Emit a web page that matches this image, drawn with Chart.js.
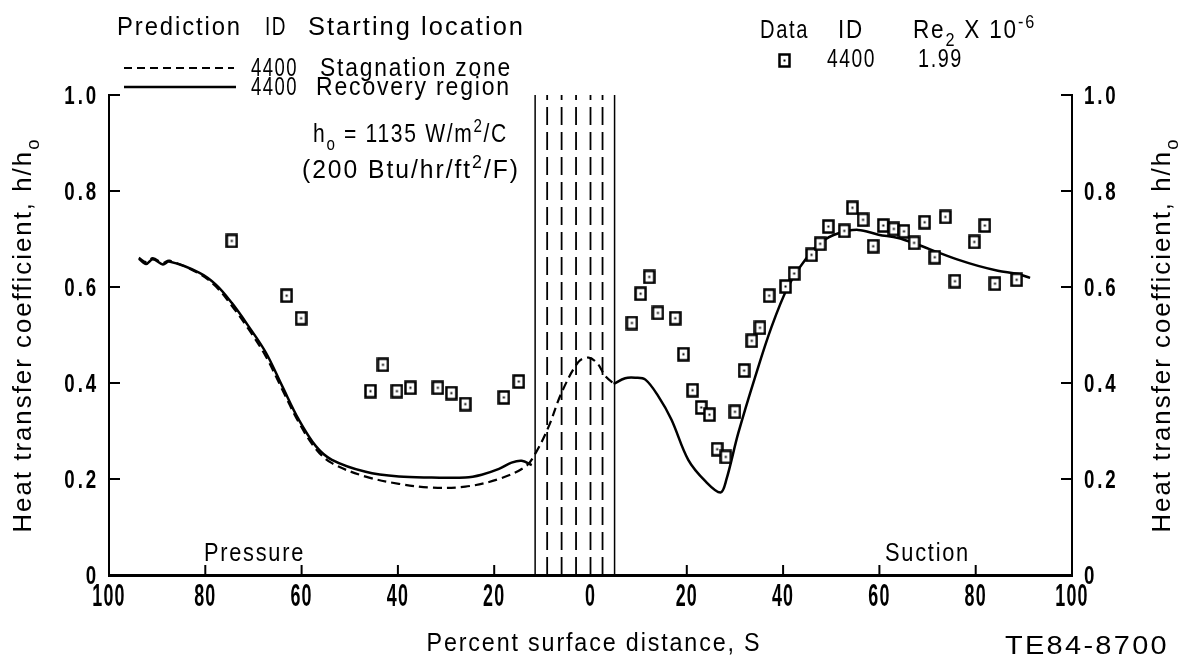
<!DOCTYPE html>
<html>
<head>
<meta charset="utf-8">
<title>Heat transfer coefficient vs percent surface distance</title>
<script src="https://cdn.jsdelivr.net/npm/chart.js@4.4.1/dist/chart.umd.min.js"></script>
<style>
  html, body { margin: 0; padding: 0; background: #fff; }
  #wrap { position: relative; width: 1181px; height: 661px; }
</style>
</head>
<body>
<div id="wrap"><canvas id="chart"></canvas></div>
<script>
// -------- data (S: percent surface distance, pressure side negative) --------

// Prediction 4400, starting in recovery region (solid)
const recPressS = [-93.8, -92.3, -90.9, -88.8, -87.5, -81.3, -77.8, -74.5, -71, -67.4, -64, -60.6, -57, -53.7, -46.7, -39.8, -33, -26, -22.6, -19, -16.4, -14.3, -12.2];
const recPressH = [0.659, 0.648, 0.658, 0.647, 0.653, 0.630, 0.605, 0.567, 0.518, 0.463, 0.393, 0.324, 0.268, 0.240, 0.215, 0.205, 0.203, 0.203, 0.209, 0.221, 0.234, 0.238, 0.229];
const recSuctS = [4.8, 7.2, 9.3, 11.4, 14.1, 16.8, 20.3, 23.9, 27, 28.2, 30.7, 34.2, 37.6, 41, 44.6, 48, 51.5, 55.6, 59.8, 63.9, 68, 72.2, 76.3, 80.5, 84.6, 88.8, 91.3];
const recSuctH = [0.398, 0.410, 0.411, 0.407, 0.372, 0.324, 0.240, 0.195, 0.172, 0.198, 0.296, 0.413, 0.517, 0.600, 0.657, 0.694, 0.712, 0.719, 0.709, 0.702, 0.688, 0.672, 0.657, 0.644, 0.634, 0.627, 0.619];

// Prediction 4400, starting in stagnation zone (dashed)
const stagS = [-93.8, -92.3, -90.9, -88.8, -87.5, -81.3, -77.8, -74.5, -71, -67.4, -64, -60.6, -57, -53.7, -46.7, -39.8, -33, -26, -19, -13.5, -11.4, -8.7, -6, -2.5, -0.4, 1.5, 3.1, 5.2];
const stagH = [0.661, 0.652, 0.660, 0.650, 0.655, 0.628, 0.601, 0.561, 0.512, 0.455, 0.386, 0.318, 0.262, 0.233, 0.205, 0.190, 0.182, 0.184, 0.200, 0.226, 0.254, 0.309, 0.380, 0.444, 0.453, 0.440, 0.414, 0.396];

// Data 4400, Re2 = 1.99e6
const dataS = [-74.5, -63.1, -60.1, -45.7, -43.1, -40.2, -37.4, -31.7, -28.9, -26, -18, -14.9,
  8.6, 10.4, 12.2, 14, 17.6, 19.3, 21.2, 23, 24.7, 26.3, 28.1, 30, 31.9, 33.5, 35.2, 37.1, 40.5, 42.3,
  45.9, 47.7, 49.4, 52.7, 54.4, 56.6, 58.7, 60.8, 63, 65.1, 67.2, 69.4, 71.5, 73.7, 75.7, 79.7, 81.9, 84, 88.5];
const dataH = [0.696, 0.582, 0.535, 0.383, 0.438, 0.383, 0.390, 0.390, 0.379, 0.356, 0.370, 0.403,
  0.525, 0.586, 0.621, 0.546, 0.535, 0.460, 0.385, 0.349, 0.334, 0.262, 0.246, 0.340, 0.426, 0.488, 0.515, 0.582, 0.601, 0.628,
  0.667, 0.690, 0.726, 0.717, 0.765, 0.740, 0.685, 0.728, 0.721, 0.716, 0.692, 0.735, 0.662, 0.746, 0.612, 0.694, 0.728, 0.607, 0.615];

// Stagnation zone boundaries (vertical lines)
const zoneSolidS = [-11.5, 5];
const zoneDashedS = [-9, -6, -3, 0, 2.5];

const xMin = -100, xMax = 100, xStep = 20;
const yMin = 0, yMax = 1, yStep = 0.2;

// -------- helpers --------
const zip = (xs, ys) => xs.map((x, i) => ({ x, y: ys[i] }));
const FAMILY = "'Liberation Sans', 'DejaVu Sans', sans-serif";

// square-with-dot marker used for the data
function makeMarker() {
  const c = document.createElement('canvas');
  c.width = 13; c.height = 15;
  const g = c.getContext('2d');
  g.fillStyle = '#fff'; g.fillRect(1, 1, 11, 13);
  g.strokeStyle = '#000'; g.lineWidth = 2.5;
  g.strokeRect(1.5, 1.5, 10, 12);
  g.fillStyle = '#000'; g.fillRect(5.5, 6.5, 2, 2);
  return c;
}
const marker = makeMarker();

// narrow plotter-style text with sub/superscripts
// segs: string or array of [text, 'sub'|'sup'|null]
// o: { size, align, rot, w (fit to width), sx (fixed squeeze), ls (letter spacing), bold }
function rich(ctx, segs, x, y, o = {}) {
  const size = o.size || 25, align = o.align || 'left';
  if (typeof segs === 'string') segs = [[segs, null]];
  ctx.save();
  ctx.translate(x, y);
  if (o.rot) ctx.rotate(o.rot);
  ctx.fillStyle = '#000';
  ctx.textBaseline = 'alphabetic';
  ctx.letterSpacing = (o.ls ?? 2) + 'px';
  const weight = o.bold ? 'bold ' : '';
  const fontFor = s => `${weight}${s ? Math.round(size * 0.72) : size}px ${FAMILY}`;
  let total = 0;
  segs.forEach(([t, s]) => { ctx.font = fontFor(s); total += ctx.measureText(t).width; });
  const sx = o.w ? o.w / total : (o.sx || 0.8);
  ctx.scale(sx, 1);
  let cx = align === 'center' ? -total / 2 : align === 'right' ? -total : 0;
  segs.forEach(([t, s]) => {
    ctx.font = fontFor(s);
    const dy = s === 'sub' ? size * 0.3 : s === 'sup' ? -size * 0.42 : 0;
    ctx.fillText(t, cx, dy);
    cx += ctx.measureText(t).width;
  });
  ctx.restore();
}

function seg(ctx, x1, y1, x2, y2) {
  ctx.beginPath(); ctx.moveTo(x1, y1); ctx.lineTo(x2, y2); ctx.stroke();
}

const yTickLabel = v => (v === 0 ? '0' : v.toFixed(1));
const xTickLabel = v => String(Math.abs(v));

// inward ticks, tick labels, legend block and notes
const annotate = {
  id: 'annotate',
  afterDraw(chart) {
    const ctx = chart.ctx;
    const xs = chart.scales.x, ys = chart.scales.y;
    ctx.save();
    ctx.strokeStyle = '#000';
    ctx.lineWidth = 2;
    ys.ticks.forEach(t => {
      const py = ys.getPixelForValue(t.value);
      if (t.value !== 0) {
        seg(ctx, xs.left, py, xs.left + 11, py);
        seg(ctx, xs.right, py, xs.right - 11, py);
      }
      rich(ctx, yTickLabel(t.value), xs.left - 10, py + 9, { size: 26, align: 'right', sx: 0.72, ls: 4, bold: true });
      rich(ctx, yTickLabel(t.value), xs.right + 12, py + 9, { size: 26, align: 'left', sx: 0.72, ls: 4, bold: true });
    });
    xs.ticks.forEach(t => {
      const px = xs.getPixelForValue(t.value);
      if (t.value !== 0 && Math.abs(t.value) !== 100) seg(ctx, px, ys.bottom, px, ys.bottom - 10);
      rich(ctx, xTickLabel(t.value), px, ys.bottom + 31, { size: 32, align: 'center', sx: 0.56, ls: 2, bold: true });
    });

    // prediction legend
    rich(ctx, 'Prediction', 117, 35, { w: 125 });
    rich(ctx, 'ID', 265, 35, { w: 22 });
    rich(ctx, 'Starting location', 308, 35, { w: 217 });
    ctx.lineWidth = 2;
    ctx.setLineDash([8, 5]);
    seg(ctx, 124, 68, 234, 68);
    ctx.setLineDash([]);
    ctx.lineWidth = 2.4;
    seg(ctx, 124, 87, 236, 87);
    rich(ctx, '4400', 251, 76, { w: 47 });
    rich(ctx, 'Stagnation zone', 320, 76, { w: 192 });
    rich(ctx, '4400', 251, 95, { w: 47 });
    rich(ctx, 'Recovery region', 316, 95, { w: 195 });

    // data legend
    rich(ctx, 'Data', 760, 38, { w: 49 });
    rich(ctx, 'ID', 838, 38, { w: 26 });
    rich(ctx, [['Re', null], ['2', 'sub'], [' X 10', null], ['-6', 'sup']], 913, 38, { w: 123 });
    ctx.drawImage(marker, 778, 53);
    rich(ctx, '4400', 827, 67, { w: 49 });
    rich(ctx, '1.99', 918, 67, { w: 45 });

    // reference value
    rich(ctx, [['h', null], ['o', 'sub'], [' = 1135 W/m', null], ['2', 'sup'], ['/C', null]], 313, 142, { w: 195 });
    rich(ctx, [['(200 Btu/hr/ft', null], ['2', 'sup'], ['/F)', null]], 302, 178, { w: 218 });

    // side labels
    rich(ctx, 'Pressure', 204, 561, { w: 101 });
    rich(ctx, 'Suction', 885, 561, { w: 85 });

    // axis titles
    rich(ctx, 'Percent surface distance, S', 594, 651, { w: 335, align: 'center' });
    rich(ctx, 'TE84-8700', 1087, 654, { w: 164, align: 'center' });
    const yTitle = [['Heat transfer coefficient, h/h', null], ['o', 'sub']];
    rich(ctx, yTitle, 31, 335, { w: 395, align: 'center', rot: -Math.PI / 2 });
    rich(ctx, yTitle, 1170, 335, { w: 395, align: 'center', rot: -Math.PI / 2 });
    ctx.restore();
  }
};

// -------- datasets --------
const datasets = [
  {
    label: 'Data 4400',
    data: zip(dataS, dataH),
    showLine: false,
    pointStyle: marker,
    pointRadius: 7
  },
  {
    label: 'Recovery region (pressure)',
    data: zip(recPressS, recPressH),
    showLine: true, borderColor: '#000', borderWidth: 2.5,
    pointRadius: 0, tension: 0.35
  },
  {
    label: 'Recovery region (suction)',
    data: zip(recSuctS, recSuctH),
    showLine: true, borderColor: '#000', borderWidth: 2.5,
    pointRadius: 0, tension: 0.35
  },
  {
    label: 'Stagnation zone',
    data: zip(stagS, stagH),
    showLine: true, borderColor: '#000', borderWidth: 2.2, borderDash: [9, 5],
    pointRadius: 0, tension: 0.35
  }
];
zoneSolidS.forEach(s => datasets.push({
  label: 'zone edge', data: [{ x: s, y: yMin }, { x: s, y: yMax }],
  showLine: true, borderColor: '#000', borderWidth: 1.5, pointRadius: 0
}));
zoneDashedS.forEach(s => datasets.push({
  label: 'zone', data: [{ x: s, y: yMin }, { x: s, y: yMax }],
  showLine: true, borderColor: '#000', borderWidth: 1.8, borderDash: [18, 7], pointRadius: 0
}));

new Chart(document.getElementById('chart'), {
  type: 'scatter',
  data: { datasets },
  options: {
    responsive: true,
    maintainAspectRatio: false,
    animation: false,
    layout: { padding: { top: 95, left: 0, right: 0, bottom: 0 } },
    plugins: { legend: { display: false }, tooltip: { enabled: false } },
    scales: {
      x: {
        type: 'linear', min: xMin, max: xMax,
        grid: { display: false },
        border: { display: true, color: '#000', width: 3 },
        ticks: { stepSize: xStep, display: false },
        afterFit: s => { s.height = 86; }
      },
      y: {
        position: 'left', min: yMin, max: yMax,
        grid: { display: false },
        border: { display: true, color: '#000', width: 2 },
        ticks: { stepSize: yStep, display: false },
        afterFit: s => { s.width = 109; }
      },
      y2: {
        position: 'right', min: yMin, max: yMax,
        grid: { display: false },
        border: { display: true, color: '#000', width: 2 },
        ticks: { stepSize: yStep, display: false },
        afterFit: s => { s.width = 109; }
      }
    }
  },
  plugins: [annotate]
});
</script>
</body>
</html>
